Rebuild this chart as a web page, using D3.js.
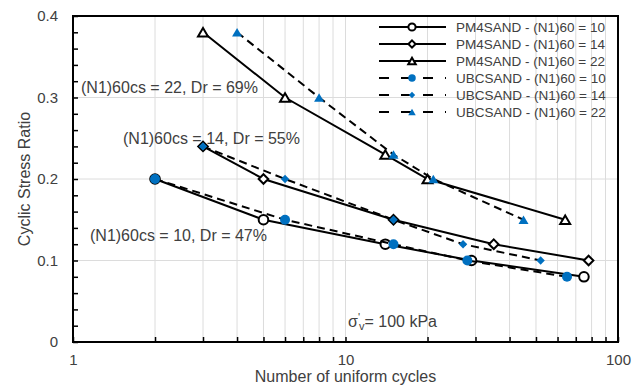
<!DOCTYPE html>
<html>
<head>
<meta charset="utf-8">
<script src="https://cdn.jsdelivr.net/npm/d3@7"></script>
<style>
  body { margin: 0; background: #fff; }
  text { font-family: "Liberation Sans", Arial, sans-serif; }
</style>
</head>
<body>
<svg id="chart" width="644" height="385"></svg>
<script>
// Cyclic stress ratio vs number of uniform cycles, PM4SAND and UBCSAND calibrations
const pm4N10 = [2, 5, 14, 29, 75];
const pm4Csr10 = [0.20, 0.15, 0.12, 0.10, 0.08];
const pm4N14 = [3, 5, 15, 35, 78];
const pm4Csr14 = [0.24, 0.20, 0.15, 0.12, 0.10];
const pm4N22 = [3, 6, 14, 20, 64];
const pm4Csr22 = [0.38, 0.30, 0.23, 0.20, 0.15];
const ubcN10 = [2, 6, 15, 28, 65];
const ubcCsr10 = [0.20, 0.15, 0.12, 0.10, 0.08];
const ubcN14 = [3, 6, 15, 27, 52];
const ubcCsr14 = [0.24, 0.20, 0.15, 0.12, 0.10];
const ubcN22 = [4, 8, 15, 21, 45];
const ubcCsr22 = [0.38, 0.30, 0.23, 0.20, 0.15];

const legendLabels = [
  "PM4SAND - (N1)60 =  10", "PM4SAND - (N1)60 =  14", "PM4SAND - (N1)60 =  22",
  "UBCSAND - (N1)60 =  10", "UBCSAND - (N1)60 =  14", "UBCSAND - (N1)60 =  22"
];
const yTickValues = [0, 0.1, 0.2, 0.3, 0.4];
const xTickValues = [1, 10, 100];

const BLUE = "#0070C0";
const TEXT = "#404040";

const series = [
  { n: pm4N10, csr: pm4Csr10, dashed: false, marker: "circle",   open: true },
  { n: pm4N14, csr: pm4Csr14, dashed: false, marker: "diamond",  open: true },
  { n: pm4N22, csr: pm4Csr22, dashed: false, marker: "triangle", open: true },
  { n: ubcN10, csr: ubcCsr10, dashed: true,  marker: "circle",   open: false },
  { n: ubcN14, csr: ubcCsr14, dashed: true,  marker: "diamond",  open: false },
  { n: ubcN22, csr: ubcCsr22, dashed: true,  marker: "triangle", open: false }
];

// marker half-sizes (px) per shape
const markerSize = {
  open:   { circle: 4.8, diamond: 4.8, triangle: 5 },
  filled: { circle: 5,   diamond: 4.2, triangle: 5 }
};

const svg = d3.select("#chart");
const plotL = 73, plotR = 618, plotT = 16, plotB = 342;

const x = d3.scaleLog().domain([1, 100]).range([plotL, plotR]);
const y = d3.scaleLinear().domain([0, 0.4]).range([plotB, plotT]);

// gridlines
const xMinor = [];
for (let d = 1; d < 100; d *= 10) for (let k = 2; k <= 9; k++) xMinor.push(d * k);
xMinor.push(10);
const grid = svg.append("g").attr("stroke", "#dcdcdc").attr("stroke-width", 1);
grid.selectAll("line.v").data(xMinor).join("line")
  .attr("x1", d => x(d)).attr("x2", d => x(d)).attr("y1", plotT).attr("y2", plotB);
grid.selectAll("line.h").data([0.1, 0.2, 0.3]).join("line")
  .attr("x1", plotL).attr("x2", plotR).attr("y1", d => y(d)).attr("y2", d => y(d));

// frame
svg.append("rect").attr("x", plotL).attr("y", plotT)
  .attr("width", plotR - plotL).attr("height", plotB - plotT)
  .attr("fill", "none").attr("stroke", "#000").attr("stroke-width", 2);

// inward minor ticks
const yMinor = d3.range(0, 0.4001, 0.02);
svg.append("g").attr("transform", `translate(${plotL},0)`)
  .call(d3.axisLeft(y).tickValues(yMinor).tickSize(-5).tickFormat(""))
  .call(g => { g.select(".domain").remove(); g.selectAll("line").attr("stroke", "#000").attr("stroke-width", 1.5); });
svg.append("g").attr("transform", `translate(0,${plotB})`)
  .call(d3.axisBottom(x).tickValues(xMinor.concat([1, 100])).tickSize(-5).tickFormat(""))
  .call(g => { g.select(".domain").remove(); g.selectAll("line").attr("stroke", "#000").attr("stroke-width", 1.5); });

// tick labels
svg.append("g").attr("transform", `translate(${plotL},0)`)
  .call(d3.axisLeft(y).tickValues(yTickValues).tickSize(0).tickPadding(15).tickFormat(d => d === 0 ? "0" : d3.format(".1f")(d)))
  .call(g => { g.select(".domain").remove(); g.selectAll("text").attr("font-size", 15).attr("fill", TEXT).attr("font-family", null); });
svg.append("g").attr("transform", `translate(0,${plotB})`)
  .call(d3.axisBottom(x).tickValues(xTickValues).tickSize(0).tickPadding(12).tickFormat(d3.format("d")))
  .call(g => { g.select(".domain").remove(); g.selectAll("text").attr("font-size", 15).attr("fill", TEXT).attr("font-family", null); });

// axis titles
svg.append("text").attr("x", (plotL + plotR) / 2).attr("y", 382)
  .attr("text-anchor", "middle").attr("font-size", 16).attr("fill", TEXT)
  .text("Number of uniform cycles");
svg.append("text").attr("transform", `translate(30,${(plotT + plotB) / 2}) rotate(-90)`)
  .attr("text-anchor", "middle").attr("font-size", 16).attr("fill", TEXT)
  .text("Cyclic Stress Ratio");

// marker shapes
function markerPath(type, s) {
  const p = d3.path();
  if (type === "circle") { p.arc(0, 0, s, 0, 2 * Math.PI); }
  else if (type === "diamond") { p.moveTo(0, -s); p.lineTo(s, 0); p.lineTo(0, s); p.lineTo(-s, 0); p.closePath(); }
  else { const h = s * 1.7; p.moveTo(0, -h / 2); p.lineTo(s, h / 2); p.lineTo(-s, h / 2); p.closePath(); }
  return p.toString();
}
function drawMarker(g, s, cx, cy, scale) {
  const size = markerSize[s.open ? "open" : "filled"][s.marker] * scale;
  g.append("path").attr("d", markerPath(s.marker, size))
    .attr("transform", `translate(${cx},${cy})`)
    .attr("fill", s.open ? "#fff" : BLUE)
    .attr("stroke", s.open ? "#000" : "none")
    .attr("stroke-width", s.open ? 2 : 0);
}

const line = d3.line().x(d => x(d[0])).y(d => y(d[1]));
const plot = svg.append("g");
series.forEach(s => {
  const pts = s.n.map((n, i) => [n, s.csr[i]]);
  plot.append("path").datum(pts).attr("d", line)
    .attr("fill", "none").attr("stroke", "#000").attr("stroke-width", 2)
    .attr("stroke-dasharray", s.dashed ? "8,5" : null);
  pts.forEach(p => drawMarker(plot, s, x(p[0]), y(p[1]), 1));
});

// annotations
const ann = [
  { t: "(N1)60cs = 22, Dr = 69%", x: 81, y: 93 },
  { t: "(N1)60cs = 14, Dr = 55%", x: 123, y: 144 },
  { t: "(N1)60cs = 10, Dr = 47%", x: 90, y: 241 }
];
svg.selectAll("text.ann").data(ann).join("text")
  .attr("x", d => d.x).attr("y", d => d.y).attr("font-size", 16).attr("fill", TEXT)
  .text(d => d.t);

const sig = svg.append("text").attr("x", 348).attr("y", 327).attr("font-size", 16).attr("fill", TEXT);
sig.append("tspan").text("σ");
sig.append("tspan").attr("font-size", 11).attr("dy", -6).text("'");
sig.append("tspan").attr("font-size", 11).attr("dx", -1).attr("dy", 9).text("v");
sig.append("tspan").attr("dy", -3).text("= 100 kPa");

// legend
const legend = svg.append("g");
series.forEach((s, i) => {
  const ly = 27 + i * 17;
  legend.append("line").attr("x1", 379).attr("x2", 446).attr("y1", ly).attr("y2", ly)
    .attr("stroke", "#000").attr("stroke-width", 2)
    .attr("stroke-dasharray", s.dashed ? "10,12" : null);
  drawMarker(legend, s, 412, ly, 0.75);
  legend.append("text").attr("x", 456).attr("y", ly + 4.5).attr("font-size", 13.5).attr("fill", TEXT)
    .text(legendLabels[i]);
});
</script>
</body>
</html>
